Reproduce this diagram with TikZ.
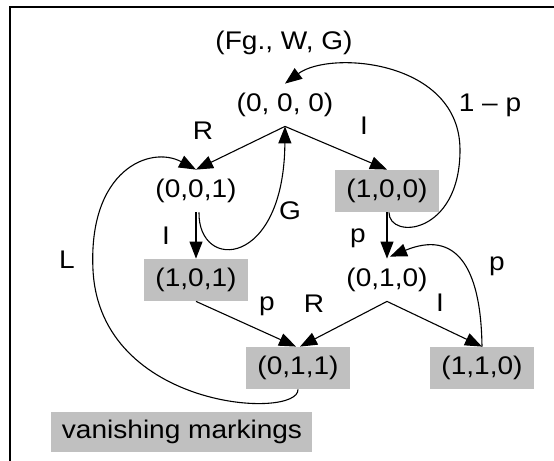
\documentclass[tikz,border=0pt]{standalone}
\usepackage{fontspec}
\setmainfont{Liberation Sans}[FakeStretch=1.1]
\usetikzlibrary{arrows.meta}
\definecolor{vgray}{RGB}{192,192,192}
\begin{document}
\begin{tikzpicture}[x=0.5pt,y=-0.5pt,
  font=\fontsize{12.75pt}{15pt}\selectfont,
  st/.style={minimum width=52pt,minimum height=21pt,inner sep=0pt},
  vm/.style={st,fill=vgray},
  lab/.style={inner sep=0pt},
  arr/.style={-{Triangle[length=8.5pt,width=6.5pt]},line width=0.55pt},
  frame/.style={line width=1.15pt}]
\useasboundingbox (0,0) rectangle (554,461);
\draw[frame] (10,461) -- (10,7) -- (554,7);
% states
\node[lab] (fg) at (284,43) {(Fg., W, G)};
\node[st] (s000) at (285,105) {(0, 0, 0)};
\node[st] (s001) at (196,191) {(0,0,1)};
\node[vm] (s100) at (387,191) {(1,0,0)};
\node[vm] (s101) at (196,280) {(1,0,1)};
\node[st] (s010) at (387,280) {(0,1,0)};
\node[vm] (s011) at (298,368) {(0,1,1)};
\node[vm] (s110) at (482,368) {(1,1,0)};
\node[vm,minimum width=130.5pt,minimum height=20.5pt] (leg) at (182,432) {vanishing markings};
% straight transitions
\draw[arr] (s000.south) -- (s001.north);
\draw[arr] (s000.south) -- (s100.north);
\draw[arr] (s001.south) -- (s101.north);
\draw[arr] (s100.south) -- (s010.north);
\draw[arr] (s101.south) -- ([xshift=-1pt]s011.north);
\draw[arr] (s010.south) -- ([xshift=1pt]s011.north);
\draw[arr] (s010.south) -- (s110.north);
% curved transitions
\draw[arr] ([xshift=1.5pt]s001.south) .. controls (198,272) and (284,268) .. (s000.south);
\draw[arr] ([xshift=1pt]s100.south) .. controls (389,240) and (460,235) .. (460,150)
  .. controls (460,60) and (330,50) .. (s000.north);
\draw[arr] (s011.south) .. controls (299,420) and (100,410) .. (93,270)
  .. controls (88,170) and (150,145) .. (s001.north);
\draw[arr] (s110.north) .. controls (481,265) and (455,230) .. ([xshift=1.5pt,yshift=1pt]s010.north);
% labels
\node[lab] (lR1) at (203,131) {R};
\node[lab] (lI1) at (364,126) {I};
\node[lab] (l1p) at (490,105) {1 – p};
\node[lab] (lG) at (290,211) {G};
\node[lab] (lI2) at (166,236) {I};
\node[lab] (lL) at (67,260) {L};
\node[lab] (lp1) at (358,238) {p};
\node[lab] (lp2) at (497,266) {p};
\node[lab] (lp3) at (267,306) {p};
\node[lab] (lR2) at (314,304) {R};
\node[lab] (lI3) at (440,303) {I};
\end{tikzpicture}
\end{document}
